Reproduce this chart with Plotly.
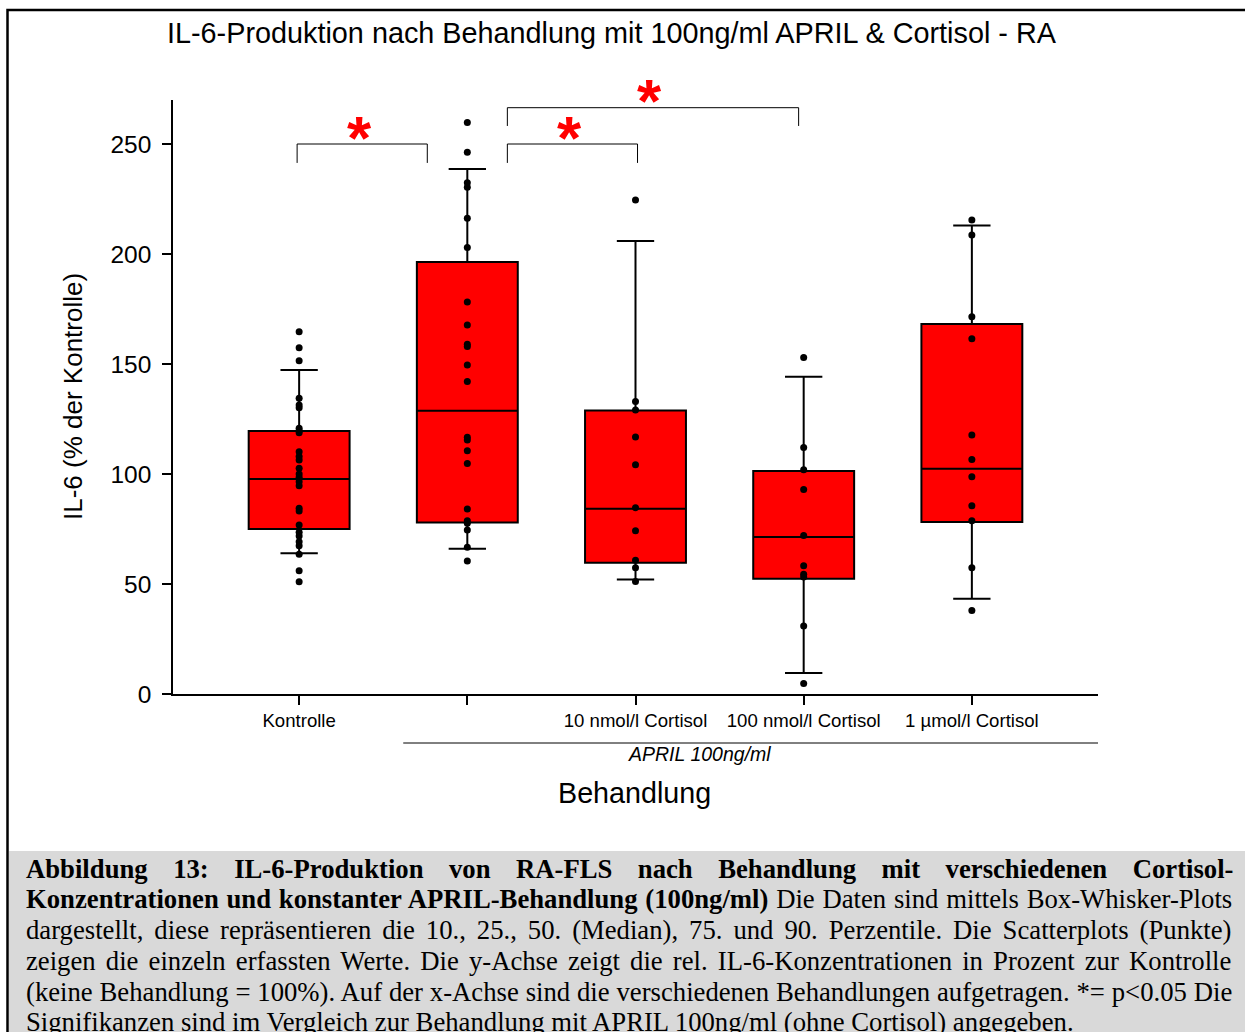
import plotly.graph_objects as go

# ---------------- data ----------------
categories = ["Kontrolle", "", "10 nmol/l Cortisol", "100 nmol/l Cortisol", "1 µmol/l Cortisol"]
# box statistics: 10th, 25th, 50th, 75th, 90th percentiles
p10 = [64.0, 66.0, 52.0, 9.5, 43.3]
q1 = [75.0, 77.9, 59.7, 52.4, 78.2]
median = [97.7, 128.8, 84.2, 71.4, 102.4]
q3 = [119.5, 196.4, 128.9, 101.4, 168.2]
p90 = [147.3, 238.6, 205.9, 144.2, 213.0]

pts_kontrolle = [164.7, 157.4, 151.5, 134.4, 131.4, 130.1, 120.8, 119.5, 118.8, 110.1,
                 107.9, 106.4, 102.6, 100.0, 98.5, 96.5, 94.7, 84.4, 83.2, 76.8,
                 73.5, 71.8, 69.2, 67.4, 63.5, 56.0, 51.0]
pts_april = [259.8, 246.2, 232.4, 230.3, 216.2, 203.0, 178.2, 167.7, 159.0, 157.9,
             149.5, 142.0, 116.7, 115.5, 110.6, 104.8, 84.1, 78.8, 77.6, 74.5, 66.7, 60.5]
pts_10nm = [224.5, 133.0, 129.1, 116.8, 104.2, 84.7, 74.2, 60.8, 57.4, 51.1]
pts_100nm = [153.0, 112.1, 101.9, 92.9, 72.1, 58.3, 54.4, 53.2, 30.9, 4.8]
pts_1um = [215.5, 208.6, 171.5, 161.5, 117.7, 106.6, 98.8, 85.6, 78.8, 57.4, 37.9]
points = [pts_kontrolle, pts_april, pts_10nm, pts_100nm, pts_1um]

y_ticks = [0, 50, 100, 150, 200, 250]

title_text = "IL-6-Produktion nach Behandlung mit 100ng/ml APRIL &amp; Cortisol - RA"
# (line text, extra word spacing in px for justification)
caption_lines = [
    ("<b>Abbildung 13: IL-6-Produktion von RA-FLS nach Behandlung mit verschiedenen Cortisol-</b>", 18.8),
    ("<b>Konzentrationen und konstanter APRIL-Behandlung (100ng/ml)</b> Die Daten sind mittels Box-Whisker-Plots", 1.1),
    ("dargestellt, diese repräsentieren die 10., 25., 50. (Median), 75. und 90. Perzentile. Die Scatterplots (Punkte)", 4.3),
    ("zeigen die einzeln erfassten Werte. Die y-Achse zeigt die rel. IL-6-Konzentrationen in Prozent zur Kontrolle", 3.5),
    ("(keine Behandlung = 100%). Auf der x-Achse sind die verschiedenen Behandlungen aufgetragen. *= p&lt;0.05 Die", 0.2),
    ("Signifikanzen sind im Vergleich zur Behandlung mit APRIL 100ng/ml (ohne Cortisol) angegeben.", 0),
]

# ---------------- geometry helpers ----------------
W, H = 1245, 1032
L, R, T, B = 173, 1098, 100, 694


def px(xp):
    return (xp - L) / (R - L)


def py(yp):
    return (B - yp) / (B - T)


SANS = "Liberation Sans, Arial, sans-serif"
SERIF = "Liberation Serif, Times New Roman, serif"

fig = go.Figure()

fig.add_trace(go.Box(
    x=list(range(len(categories))),
    q1=q1, median=median, q3=q3, lowerfence=p10, upperfence=p90,
    width=0.6, whiskerwidth=0.37,
    fillcolor="#ff0000", line=dict(color="black", width=2),
    boxpoints=False, hoverinfo="skip", showlegend=False,
))

xs, ys = [], []
for i, vals in enumerate(points):
    xs += [i] * len(vals)
    ys += vals
fig.add_trace(go.Scatter(
    x=xs, y=ys, mode="markers",
    marker=dict(color="black", size=7),
    showlegend=False, hoverinfo="skip", cliponaxis=False,
))

shapes = []
annotations = []

# frame and caption background
shapes.append(dict(type="rect", xref="paper", yref="paper",
                   x0=px(9), x1=px(1250), y0=py(851), y1=py(1040),
                   fillcolor="#d9d9d9", line=dict(width=0), layer="below"))
shapes.append(dict(type="rect", xref="paper", yref="paper",
                   x0=px(7.5), x1=px(1260), y0=py(1050), y1=py(10),
                   fillcolor="rgba(0,0,0,0)", line=dict(color="black", width=2.5)))

# significance brackets (x in category units, y in data units, star centre in pixels)
brackets = [(-0.012, 0.762, 250.0, 241.4, 130),
            (1.238, 2.012, 250.0, 241.4, 130),
            (1.238, 2.970, 266.5, 258.2, 93.5)]
for x0, x1, ytop, ybot, ystar in brackets:
    shapes.append(dict(type="path", xref="x", yref="y",
                       path=f"M {x0} {ybot} L {x0} {ytop} L {x1} {ytop} L {x1} {ybot}",
                       line=dict(color="black", width=1)))
    annotations.append(dict(x=(x0 + x1) / 2, y=py(ystar), xref="x", yref="paper",
                            text="<b>*</b>", showarrow=False, yanchor="middle",
                            yshift=-7, xshift=-3,
                            font=dict(family=SANS, size=62, color="#ff0000")))

# APRIL group line
shapes.append(dict(type="line", xref="x", yref="paper", x0=0.619, x1=4.75,
                   y0=py(743), y1=py(743), line=dict(color="black", width=1)))
annotations.append(dict(x=2.381, y=py(754), xref="x", yref="paper",
                        text="<i>APRIL 100ng/ml</i>", showarrow=False, yanchor="middle",
                        font=dict(family=SANS, size=19.5, color="black")))

# titles
annotations.append(dict(x=px(612), y=py(33), xref="paper", yref="paper", text=title_text,
                        showarrow=False, yanchor="middle",
                        font=dict(family=SANS, size=28.8, color="black")))
annotations.append(dict(x=px(634), y=py(793), xref="paper", yref="paper", text="Behandlung",
                        showarrow=False, yanchor="middle",
                        font=dict(family=SANS, size=28.7, color="black")))
annotations.append(dict(x=px(73), y=py(397), xref="paper", yref="paper",
                        text="IL-6 (% der Kontrolle)", textangle=-90,
                        showarrow=False, xanchor="center", yanchor="middle",
                        font=dict(family=SANS, size=26, color="black")))

# caption
cap_y = [869, 899, 930, 961, 992, 1022]
for (txt, ws), yy in zip(caption_lines, cap_y):
    if ws:
        if "<b>" in txt:
            txt = txt.replace("<b>", f"<b><span style='word-spacing:{ws}px'>").replace("</b>", "</span></b>")
            head, _, tail = txt.partition("</span></b>")
            if tail:
                txt = head + "</span></b>" + f"<span style='word-spacing:{ws}px'>" + tail + "</span>"
        else:
            txt = f"<span style='word-spacing:{ws}px'>" + txt + "</span>"
    annotations.append(dict(x=px(24), y=py(yy), xref="paper", yref="paper", text=txt,
                            showarrow=False, xanchor="left", yanchor="middle", align="left",
                            font=dict(family=SERIF, size=26.7, color="black")))

fig.update_layout(
    width=W, height=H, autosize=False,
    margin=dict(l=L, r=W - R, t=T, b=H - B),
    paper_bgcolor="white", plot_bgcolor="white",
    shapes=shapes, annotations=annotations,
    xaxis=dict(range=[-0.75, 4.75], tickvals=list(range(len(categories))), ticktext=categories,
               showline=True, linecolor="black", linewidth=1.5, ticks="outside", ticklen=9,
               tickwidth=1.5, tickcolor="black", showgrid=False, zeroline=False,
               tickfont=dict(family=SANS, size=18.6, color="black")),
    yaxis=dict(range=[0, 270], tickvals=y_ticks,
               showline=True, linecolor="black", linewidth=1.5, ticks="outside", ticklen=9,
               tickwidth=1.5, tickcolor="black", showgrid=False, zeroline=False,
               ticklabelstandoff=6,
               tickfont=dict(family=SANS, size=24.5, color="black")),
)

fig.write_html("out.html", config={"displayModeBar": False})
